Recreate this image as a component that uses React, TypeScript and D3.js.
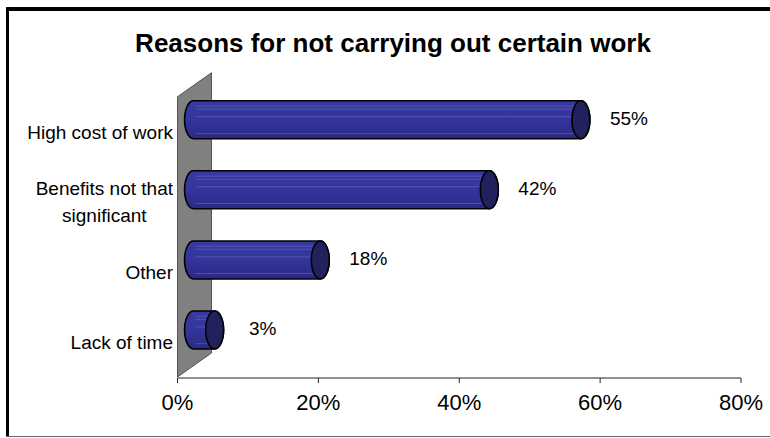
import React, { useEffect, useRef } from "react";
import * as d3 from "d3";

const categories: string[][] = [
  ["High cost of work"],
  ["Benefits not that", "significant"],
  ["Other"],
  ["Lack of time"],
];
const values: number[] = [0.55, 0.42, 0.18, 0.03];
const valueLabels: string[] = ["55%", "42%", "18%", "3%"];
const ticks: number[] = [0, 0.2, 0.4, 0.6, 0.8];
const title = "Reasons for not carrying out certain work";

const W = 770;
const H = 438;
const FONT = "'Liberation Sans', Arial, sans-serif";

export default function App() {
  const ref = useRef<SVGSVGElement | null>(null);

  useEffect(() => {
    const svg = d3.select(ref.current);
    svg.selectAll("*").remove();

    const x = d3.scaleLinear().domain([0, 0.8]).range([177.5, 741]);
    const keys = categories.map((c) => c.join(" "));
    const y = d3.scaleBand().domain(keys).range([96.7, 377]).paddingInner(0);

    const depthX = 34;
    const depthY = -24;
    const offX = 16;
    const offY = -12;
    const ry = 19;
    const rx = 9;

    const defs = svg.append("defs");
    const grad = defs
      .append("linearGradient")
      .attr("id", "barGrad")
      .attr("x1", 0)
      .attr("y1", 0)
      .attr("x2", 0)
      .attr("y2", 1);
    grad.append("stop").attr("offset", "0%").attr("stop-color", "#3838a2");
    grad.append("stop").attr("offset", "45%").attr("stop-color", "#35359e");
    grad.append("stop").attr("offset", "100%").attr("stop-color", "#2a2a84");

    svg.append("rect").attr("x", 0).attr("y", 0).attr("width", W).attr("height", H).attr("fill", "#fff");

    // frame
    svg.append("line").attr("x1", 6).attr("x2", W).attr("y1", 9).attr("y2", 9).attr("stroke", "#000").attr("stroke-width", 4);
    svg.append("line").attr("x1", 7.5).attr("x2", 7.5).attr("y1", 7).attr("y2", 437).attr("stroke", "#000").attr("stroke-width", 3);
    svg.append("line").attr("x1", 6).attr("x2", W).attr("y1", 436.5).attr("y2", 436.5).attr("stroke", "#666").attr("stroke-width", 1);

    // title
    svg
      .append("text")
      .attr("x", 393)
      .attr("y", 52)
      .attr("text-anchor", "middle")
      .attr("font-family", FONT)
      .attr("font-weight", "bold")
      .attr("font-size", 26)
      .attr("fill", "#000")
      .text(title);

    // back wall
    const x0 = x(0);
    const yTop = y.range()[0];
    const yBot = y.range()[1];
    svg
      .append("path")
      .attr(
        "d",
        `M${x0},${yTop} L${x0 + depthX},${yTop + depthY} L${x0 + depthX},${yBot + depthY} L${x0},${yBot} Z`
      )
      .attr("fill", "#808080")
      .attr("stroke", "#3a3a3a")
      .attr("stroke-width", 0.8);

    // axis line + ticks
    svg
      .append("line")
      .attr("x1", x(0))
      .attr("x2", x(0.8))
      .attr("y1", yBot + 1)
      .attr("y2", yBot + 1)
      .attr("stroke", "#222")
      .attr("stroke-width", 1);
    const tg = svg.append("g");
    ticks.forEach((t) => {
      tg.append("line")
        .attr("x1", x(t))
        .attr("x2", x(t))
        .attr("y1", yBot + 1)
        .attr("y2", yBot + 6)
        .attr("stroke", "#222")
        .attr("stroke-width", 1);
      tg.append("text")
        .attr("x", x(t))
        .attr("y", 410)
        .attr("text-anchor", "middle")
        .attr("font-family", FONT)
        .attr("font-size", 22)
        .attr("fill", "#000")
        .text(d3.format(".0%")(t));
    });

    // bars
    const bg = svg.append("g");
    values.forEach((v, i) => {
      const key = keys[i];
      const cy = (y(key) as number) + y.bandwidth() / 2 + offY;
      const top = cy - ry;
      const bot = cy + ry;
      const xl = x(0) + offX;
      const xr = x(v) + offX;
      const body = `M${xl},${top} L${xr},${top} A${rx},${ry} 0 0 1 ${xr},${bot} L${xl},${bot} A${rx},${ry} 0 0 1 ${xl},${top} Z`;
      bg.append("path")
        .attr("d", body)
        .attr("fill", "url(#barGrad)")
        .attr("stroke", "#000")
        .attr("stroke-width", 1.5);
      [0.14, 0.22, 0.42, 0.86].forEach((f) => {
        bg.append("line")
          .attr("x1", xl + 2)
          .attr("x2", xr - 2)
          .attr("y1", top + f * 2 * ry)
          .attr("y2", top + f * 2 * ry)
          .attr("stroke", "#8f8fd6")
          .attr("stroke-opacity", 0.45)
          .attr("stroke-width", 0.8);
      });
      bg.append("ellipse")
        .attr("cx", xr)
        .attr("cy", cy)
        .attr("rx", rx)
        .attr("ry", ry)
        .attr("fill", "#21215c")
        .attr("stroke", "#000")
        .attr("stroke-width", 1.5);
      bg.append("text")
        .attr("x", x(v) + 64)
        .attr("y", cy + 5)
        .attr("text-anchor", "middle")
        .attr("font-family", FONT)
        .attr("font-size", 19)
        .attr("fill", "#000")
        .text(valueLabels[i]);
    });

    // category labels
    const lg = svg.append("g");
    const labelRight = x(0) - 4.5;
    const lineH = 27.5;
    categories.forEach((lines, i) => {
      const cy = (y(keys[i]) as number) + y.bandwidth() / 2;
      const baseY = cy + 6.8 - ((lines.length - 1) * lineH) / 2;
      const nodes = lines.map((ln, j) =>
        lg
          .append("text")
          .attr("font-family", FONT)
          .attr("font-size", 19)
          .attr("fill", "#000")
          .attr("text-anchor", "middle")
          .attr("y", baseY + j * lineH)
          .text(ln)
      );
      let maxW = 0;
      nodes.forEach((n) => {
        const w = (n.node() as SVGTextElement).getComputedTextLength();
        if (w > maxW) maxW = w;
      });
      nodes.forEach((n) => n.attr("x", labelRight - maxW / 2));
    });
  }, []);

  return (
    <svg
      ref={ref}
      width={W}
      height={H}
      style={{ position: "absolute", left: 0, top: 0, display: "block" }}
    />
  );
}
